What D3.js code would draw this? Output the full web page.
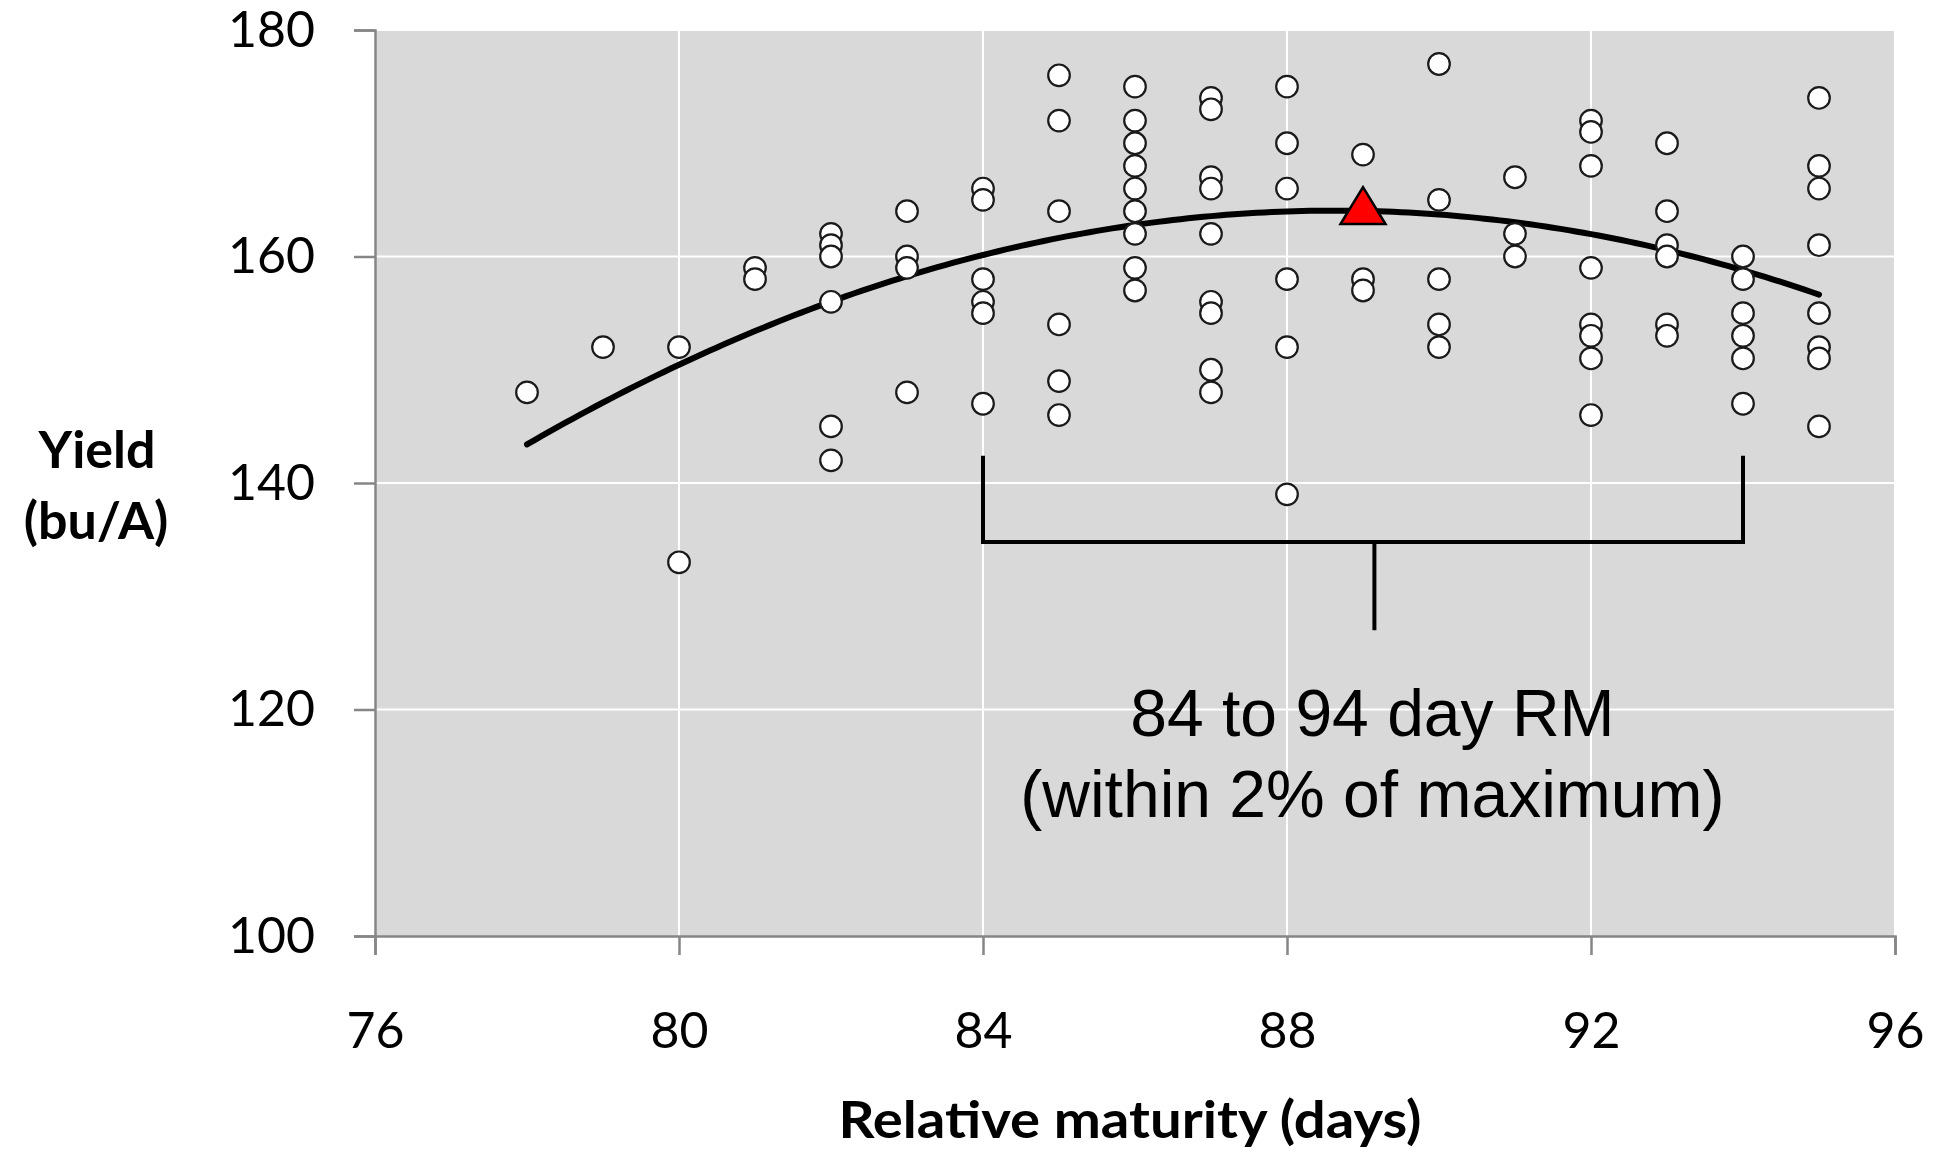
<!DOCTYPE html>
<html lang="en">
<head>
    <meta charset="UTF-8">
    <title>Yield vs relative maturity</title>
    <script src="https://d3js.org/d3.v7.min.js"></script>
    <style>
        body {
            margin: 0;
            background: #fff;
            overflow: hidden;
        }
        svg {
            display: block;
        }
        .tick-label {
            font-family: Lato, "Open Sans", sans-serif;
            font-size: 50px;
            fill: #000;
        }
        .axis-title {
            font-family: Lato, "Open Sans", sans-serif;
            font-weight: bold;
            font-size: 52px;
            fill: #000;
        }
        .note {
            font-family: "Liberation Sans", Arial, sans-serif;
            font-size: 66px;
            fill: #000;
        }
    </style>
</head>
<body>
<script>
    // Relative maturity (days) and yields (bu/A), one group per day
    const maturityDays = [78, 79, 80, 81, 82, 83, 84, 85, 86, 87, 88, 89, 90, 91, 92, 93, 94, 95];
    const yieldsByDay = [
        [148],
        [152],
        [152, 133],
        [159, 158],
        [162, 161, 160, 156, 145, 142],
        [164, 160, 159, 148],
        [166, 165, 158, 156, 155, 147],
        [176, 172, 164, 154, 149, 146],
        [175, 172, 170, 168, 166, 164, 162, 159, 157],
        [174, 173, 167, 166, 162, 156, 155, 150, 148],
        [175, 170, 166, 158, 152, 139],
        [169, 158, 157],
        [177, 165, 158, 154, 152],
        [167, 162, 160],
        [172, 171, 168, 159, 154, 153, 151, 146],
        [170, 164, 161, 160, 154, 153],
        [160, 158, 155, 153, 151, 147],
        [174, 168, 166, 161, 155, 152, 151, 145]
    ];

    // quadratic trendline as drawn: vertex day, vertex yield, curvature
    const trendVertex = [88.63, 164.05];
    const trendCurvature = -0.1827;

    // maximum of the fitted curve (red triangle)
    const maxPoint = [89, 164.5];

    // bracket marking the 84-94 day range
    const rangeDays = [84, 94];
    const bracketYields = [142.4, 134.8, 127];   // top of arms, bar, bottom of stem
    const stemDay = 89.15;

    const xTicks = [76, 80, 84, 88, 92, 96];
    const yTicks = [100, 120, 140, 160, 180];
    const noteLines = ["84 to 94 day RM", "(within 2% of maximum)"];

    const width = 1946, height = 1150;
    const margin = {left: 375, right: 51, top: 30, bottom: 214};

    const svg = d3.select("body").append("svg")
        .attr("width", width)
        .attr("height", height);

    const x = d3.scaleLinear().domain([76, 96]).range([margin.left, width - margin.right]);
    const y = d3.scaleLinear().domain([100, 180]).range([height - margin.bottom, margin.top]);

    // plot background
    svg.append("rect")
        .attr("x", x(76)).attr("y", y(180))
        .attr("width", x(96) - x(76)).attr("height", y(100) - y(180))
        .attr("fill", "#d9d9d9");

    // gridlines
    svg.append("g").selectAll("line.vg")
        .data(xTicks.slice(1))
        .join("line")
        .attr("x1", d => x(d)).attr("x2", d => x(d))
        .attr("y1", y(180)).attr("y2", y(100))
        .attr("stroke", "#fff").attr("stroke-width", 2);

    svg.append("g").selectAll("line.hg")
        .data(yTicks.slice(1))
        .join("line")
        .attr("x1", x(76)).attr("x2", x(96))
        .attr("y1", d => y(d)).attr("y2", d => y(d))
        .attr("stroke", "#fff").attr("stroke-width", 2);

    // axes
    const yAxis = svg.append("g")
        .attr("transform", `translate(${x(76)},0)`)
        .call(d3.axisLeft(y).tickValues(yTicks).tickSize(21).tickPadding(39));
    const xAxis = svg.append("g")
        .attr("transform", `translate(0,${y(100)})`)
        .call(d3.axisBottom(x).tickValues(xTicks).tickSize(19).tickPadding(48));

    [yAxis, xAxis].forEach(a => {
        a.select(".domain").attr("stroke", "#868686").attr("stroke-width", 2.5);
        a.selectAll(".tick line").attr("stroke", "#868686").attr("stroke-width", 2.5);
        a.selectAll(".tick text").attr("class", "tick-label").attr("font-family", null).attr("font-size", null);
    });
    xAxis.selectAll(".tick text").attr("dy", "0.9em");

    // trendline from the lowest to the highest maturity
    const points = maturityDays.flatMap((d, i) => yieldsByDay[i].map(v => [d, v]));
    const trend = d => trendVertex[1] + trendCurvature * (d - trendVertex[0]) * (d - trendVertex[0]);
    const xMin = d3.min(maturityDays), xMax = d3.max(maturityDays);
    const curve = d3.range(xMin, xMax + 0.001, 0.1).map(d => [d, trend(d)]);

    svg.append("path")
        .datum(curve)
        .attr("fill", "none")
        .attr("stroke", "#000")
        .attr("stroke-width", 6)
        .attr("stroke-linecap", "round")
        .attr("d", d3.line().x(d => x(d[0])).y(d => y(d[1])));

    // scatter points
    svg.append("g").selectAll("circle")
        .data(points)
        .join("circle")
        .attr("cx", d => x(d[0]))
        .attr("cy", d => y(d[1]))
        .attr("r", 10.8)
        .attr("fill", "#fff")
        .attr("stroke", "#1a1a1a")
        .attr("stroke-width", 2.2);

    // maximum marker
    const triW = 45, triH = 37;
    const tx = x(maxPoint[0]), ty = y(maxPoint[1]);
    svg.append("path")
        .attr("d", `M${tx},${ty - triH / 2}L${tx + triW / 2},${ty + triH / 2}L${tx - triW / 2},${ty + triH / 2}Z`)
        .attr("fill", "#ff0000")
        .attr("stroke", "#000")
        .attr("stroke-width", 2.5)
        .attr("stroke-linejoin", "miter");

    // bracket
    const bracket = svg.append("g")
        .attr("fill", "none")
        .attr("stroke", "#000")
        .attr("stroke-width", 4);
    bracket.append("path")
        .attr("d", `M${x(rangeDays[0])},${y(bracketYields[0])}V${y(bracketYields[1])}H${x(rangeDays[1])}V${y(bracketYields[0])}`);
    bracket.append("line")
        .attr("x1", x(stemDay)).attr("x2", x(stemDay))
        .attr("y1", y(bracketYields[1])).attr("y2", y(bracketYields[2]));

    // annotation
    const note = svg.append("text")
        .attr("class", "note")
        .attr("text-anchor", "middle");
    note.selectAll("tspan")
        .data(noteLines)
        .join("tspan")
        .attr("x", x(stemDay) - 2)
        .attr("y", (d, i) => 736 + i * 81)
        .text(d => d);

    // axis titles
    const yTitle = svg.append("text")
        .attr("class", "axis-title")
        .attr("text-anchor", "middle");
    yTitle.append("tspan").attr("x", 97).attr("y", 468).text("Yield");
    yTitle.append("tspan").attr("x", 96).attr("y", 539).text("(bu/A)");

    svg.append("text")
        .attr("class", "axis-title")
        .attr("text-anchor", "middle")
        .attr("x", 1130)
        .attr("y", 1138)
        .attr("textLength", 583)
        .attr("lengthAdjust", "spacingAndGlyphs")
        .text("Relative maturity (days)");
</script>
</body>
</html>
